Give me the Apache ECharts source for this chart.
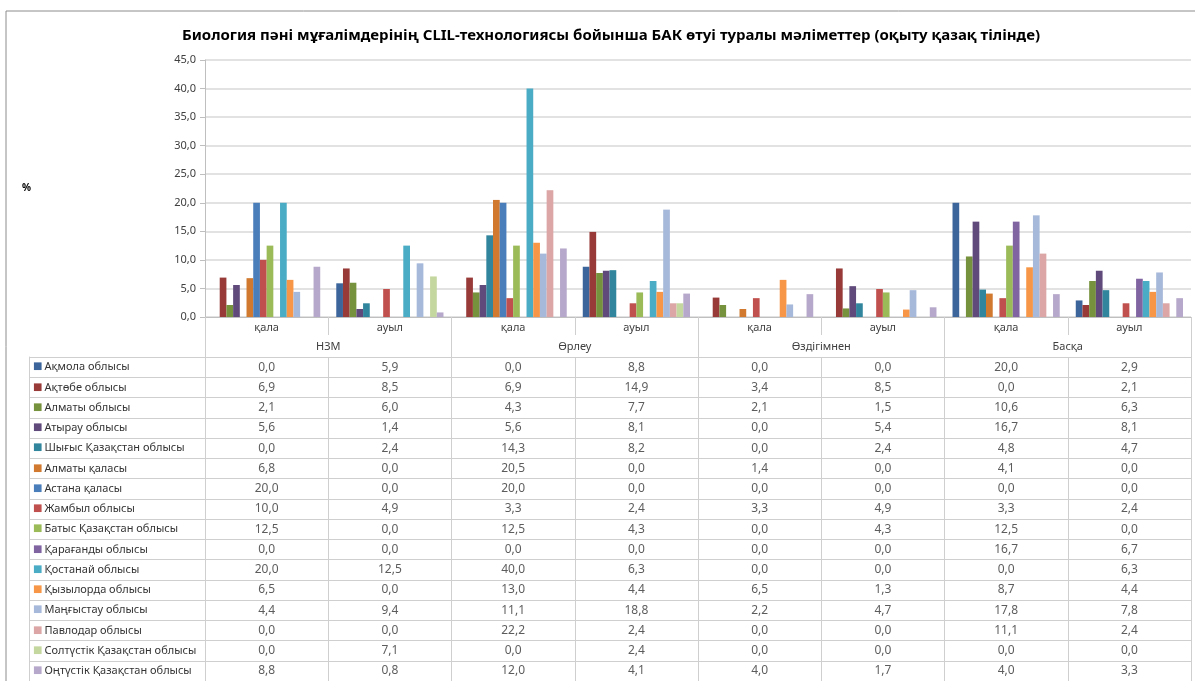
<!DOCTYPE html>
<html><head><meta charset="utf-8">
<script src="https://cdn.jsdelivr.net/npm/echarts@6/dist/echarts.min.js"></script>
<style>html,body{margin:0;padding:0;background:#fff}#c{width:1195px;height:681px}</style>
</head><body><div id="c"></div>
<script>
const chartTitle = 'Биология пәні мұғалімдерінің CLIL-технологиясы бойынша БАК өтуі туралы мәліметтер (оқыту қазақ тілінде)';
const groups = ['НЗМ', 'Өрлеу', 'Өздігімнен', 'Басқа'];
const categories = ['қала', 'ауыл', 'қала', 'ауыл', 'қала', 'ауыл', 'қала', 'ауыл'];
const yTicks = { min: 0, max: 45, step: 5 };
const regions = [
  'Ақмола облысы', 'Ақтөбе облысы', 'Алматы облысы', 'Атырау облысы',
  'Шығыс Қазақстан облысы', 'Алматы қаласы', 'Астана қаласы', 'Жамбыл облысы',
  'Батыс Қазақстан облысы', 'Қарағанды облысы', 'Қостанай облысы', 'Қызылорда облысы',
  'Маңғыстау облысы', 'Павлодар облысы', 'Солтүстік Қазақстан облысы', 'Оңтүстік Қазақстан облысы'
];
// values per region: НЗМ қала, НЗМ ауыл, Өрлеу қала, Өрлеу ауыл, Өздігімнен қала, Өздігімнен ауыл, Басқа қала, Басқа ауыл
const akmola      = [0.0, 5.9, 0.0, 8.8, 0.0, 0.0, 20.0, 2.9];
const aktobe      = [6.9, 8.5, 6.9, 14.9, 3.4, 8.5, 0.0, 2.1];
const almatyObl   = [2.1, 6.0, 4.3, 7.7, 2.1, 1.5, 10.6, 6.3];
const atyrau      = [5.6, 1.4, 5.6, 8.1, 0.0, 5.4, 16.7, 8.1];
const eastKaz     = [0.0, 2.4, 14.3, 8.2, 0.0, 2.4, 4.8, 4.7];
const almatyCity  = [6.8, 0.0, 20.5, 0.0, 1.4, 0.0, 4.1, 0.0];
const astanaCity  = [20.0, 0.0, 20.0, 0.0, 0.0, 0.0, 0.0, 0.0];
const zhambyl     = [10.0, 4.9, 3.3, 2.4, 3.3, 4.9, 3.3, 2.4];
const westKaz     = [12.5, 0.0, 12.5, 4.3, 0.0, 4.3, 12.5, 0.0];
const karaganda   = [0.0, 0.0, 0.0, 0.0, 0.0, 0.0, 16.7, 6.7];
const kostanay    = [20.0, 12.5, 40.0, 6.3, 0.0, 0.0, 0.0, 6.3];
const kyzylorda   = [6.5, 0.0, 13.0, 4.4, 6.5, 1.3, 8.7, 4.4];
const mangystau   = [4.4, 9.4, 11.1, 18.8, 2.2, 4.7, 17.8, 7.8];
const pavlodar    = [0.0, 0.0, 22.2, 2.4, 0.0, 0.0, 11.1, 2.4];
const northKaz    = [0.0, 7.1, 0.0, 2.4, 0.0, 0.0, 0.0, 0.0];
const southKaz    = [8.8, 0.8, 12.0, 4.1, 4.0, 1.7, 4.0, 3.3];
const seriesValues = [akmola, aktobe, almatyObl, atyrau, eastKaz, almatyCity, astanaCity, zhambyl,
  westKaz, karaganda, kostanay, kyzylorda, mangystau, pavlodar, northKaz, southKaz];

const colors = ['#3C659C', '#973A38', '#77923C', '#604A7B', '#31859C', '#D0792F', '#4A7EBB', '#C0504D',
  '#9BBB59', '#8064A2', '#4BACC6', '#F79646', '#A7B9DA', '#DBA6A5', '#C4D79E', '#B6A8CA'];

const fmt = v => v.toFixed(1).replace('.', ',');
const FONT = '"Noto Sans", "DejaVu Sans", sans-serif';
const lineCol = '#CFCFCF';

const chart = echarts.init(document.getElementById('c'));

const barSeries = regions.map((name, i) => ({
  name: name,
  type: 'bar',
  xAxisIndex: 0, yAxisIndex: 0,
  data: seriesValues[i],
  itemStyle: { color: colors[i] },
  barGap: '0%',
  barCategoryGap: '13%',
  animation: false
}));

const tableData = [];
regions.forEach((name, r) => {
  seriesValues[r].forEach((v, c) => tableData.push([c, r, v]));
});

const rich = {};
colors.forEach((c, i) => { rich['m' + i] = { color: c, fontSize: 10, padding: [0, 2, 1, 0], fontFamily: FONT }; });

const option = {
  animation: false,
  backgroundColor: '#fff',
  textStyle: { fontFamily: FONT },
  title: {
    text: chartTitle,
    left: 606, top: 23, textAlign: 'center',
    textStyle: { fontSize: 15, fontWeight: 'bold', color: '#000', fontFamily: FONT }
  },
  graphic: [{
    type: 'rect', z: -10, silent: true,
    shape: { x: 6, y: 11, width: 1300, height: 800 },
    style: { fill: 'none', stroke: '#8C8C8C', lineWidth: 1 }
  }],
  grid: [
    { left: 205, right: 4, top: 60, bottom: 364 },
    { left: 205, right: 4, top: 357, bottom: -2 },
    { left: 29, width: 176, top: 357, bottom: -2 }
  ],
  xAxis: [
    {
      type: 'category', gridIndex: 0, data: categories, position: 'bottom', offset: 0,
      axisLine: { show: true, lineStyle: { color: '#BFBFBF' } },
      axisTick: { show: true, length: 18, interval: 0, lineStyle: { color: lineCol } },
      axisLabel: { interval: 0, margin: 5, fontSize: 11, color: '#404040', fontFamily: FONT },
      splitLine: { show: false }
    },
    {
      type: 'category', gridIndex: 0, data: groups, position: 'bottom', offset: 0,
      axisLine: { show: false },
      axisTick: { show: true, length: 40, interval: 0, lineStyle: { color: lineCol } },
      axisLabel: { interval: 0, margin: 24, fontSize: 11, color: '#404040', fontFamily: FONT },
      splitLine: { show: false }
    },
    {
      type: 'category', gridIndex: 1, data: categories, position: 'top',
      axisLine: { show: false }, axisTick: { show: false },
      axisLabel: { show: false, interval: 0 },
      splitLine: { show: true, interval: 0, showMinLine: true, showMaxLine: true, lineStyle: { color: lineCol } }
    },
    {
      type: 'value', gridIndex: 2, show: false
    }
  ],
  yAxis: [
    {
      type: 'value', gridIndex: 0, min: yTicks.min, max: yTicks.max, interval: yTicks.step,
      name: '%', nameLocation: 'middle', nameRotate: 0, nameGap: 174,
      nameTextStyle: { fontSize: 10, fontWeight: 'bold', color: '#000', fontFamily: FONT },
      axisLine: { show: true, lineStyle: { color: '#BFBFBF' } },
      axisTick: { show: true, length: 5, lineStyle: { color: '#BFBFBF' } },
      axisLabel: { formatter: v => fmt(v), fontSize: 11, color: '#404040', margin: 9, fontFamily: FONT },
      splitLine: { show: true, lineStyle: { color: '#D9D9D9', width: 1.5 } }
    },
    {
      type: 'category', gridIndex: 1, data: regions, inverse: true,
      axisLine: { show: false }, axisTick: { show: false },
      axisLabel: { show: false, interval: 0 },
      splitLine: { show: true, interval: 0, showMinLine: true, showMaxLine: true, lineStyle: { color: lineCol } }
    },
    {
      type: 'category', gridIndex: 2, data: regions, inverse: true,
      axisLine: { show: true, lineStyle: { color: lineCol } }, axisTick: { show: false },
      axisLabel: {
        show: true, inside: true, interval: 0, margin: 4,
        fontSize: 11, color: '#333', fontFamily: FONT,
        formatter: (v, i) => '{m' + i + '|■}' + v,
        rich: rich
      },
      splitLine: { show: true, interval: 0, showMinLine: true, showMaxLine: true, lineStyle: { color: lineCol } }
    }
  ],
  series: barSeries.concat([{
    type: 'scatter',
    xAxisIndex: 2, yAxisIndex: 1,
    symbolSize: 0,
    data: tableData,
    silent: true,
    label: {
      show: true, position: 'inside',
      formatter: p => fmt(p.value[2]),
      fontSize: 12, color: '#333', fontFamily: FONT
    },
    animation: false
  }])
};
chart.setOption(option);
</script>
</body></html>
